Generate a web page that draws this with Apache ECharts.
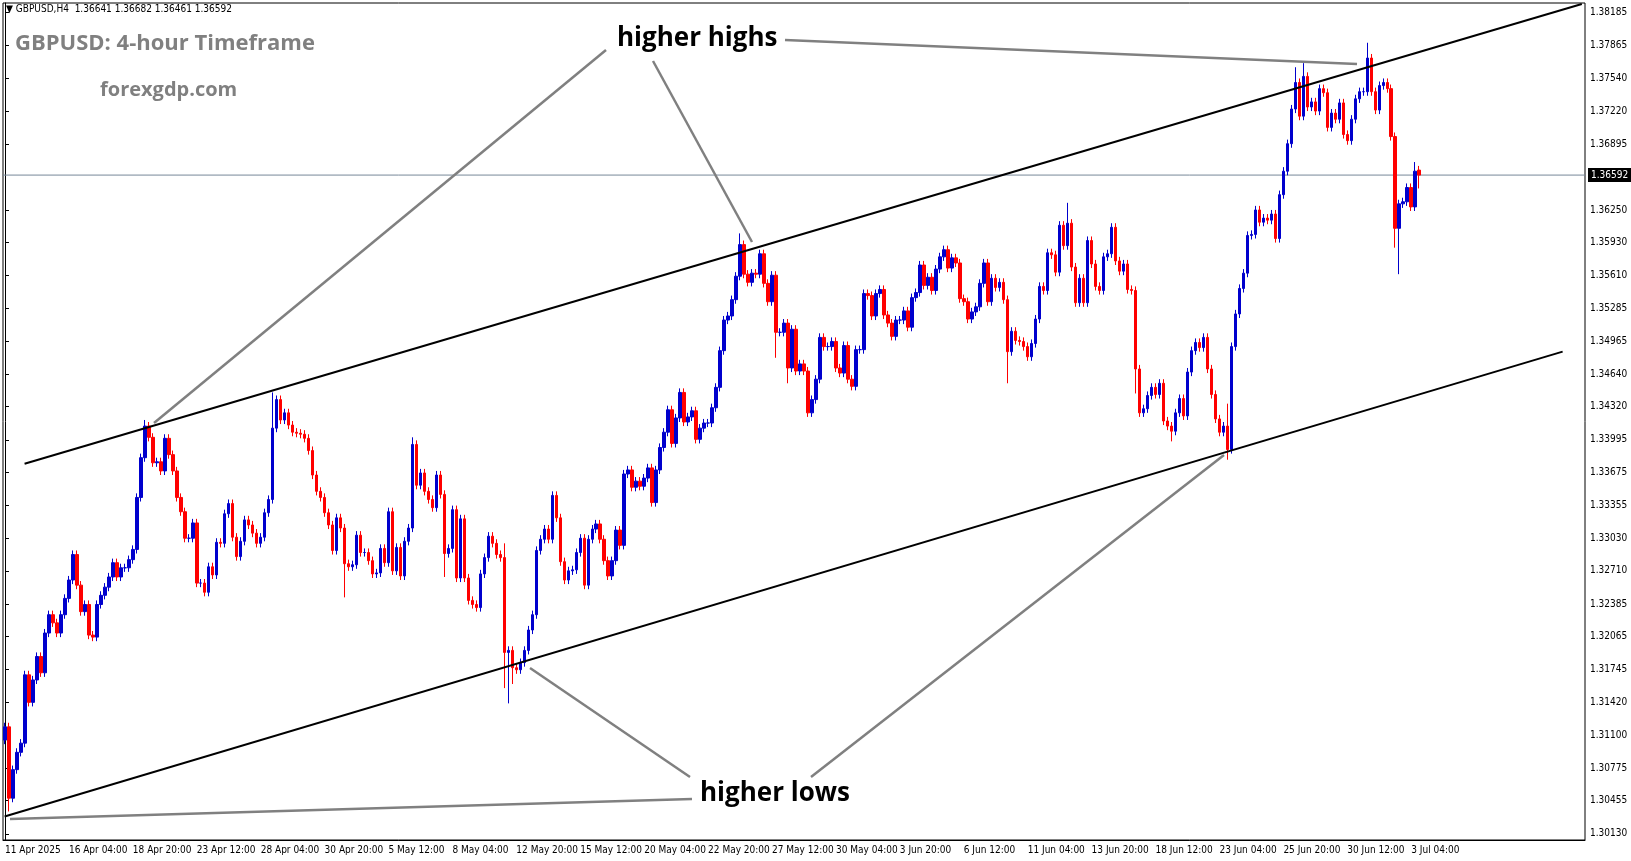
<!DOCTYPE html>
<html><head><meta charset="utf-8">
<script src="https://cdn.jsdelivr.net/npm/echarts@6/dist/echarts.min.js"></script>
<style>html,body{margin:0;padding:0;background:#fff}#c{width:1631px;height:861px}</style>
</head><body><div id="c"></div>
<script>
const tickLabels = ['11 Apr 2025','16 Apr 04:00','18 Apr 20:00','23 Apr 12:00','28 Apr 04:00','30 Apr 20:00','5 May 12:00','8 May 04:00','12 May 20:00','15 May 12:00','20 May 04:00','22 May 20:00','27 May 12:00','30 May 04:00','3 Jun 20:00','6 Jun 12:00','11 Jun 04:00','13 Jun 20:00','18 Jun 12:00','23 Jun 04:00','25 Jun 20:00','30 Jun 12:00','3 Jul 04:00'];
const priceLabels = [1.38185,1.37865,1.37540,1.37220,1.36895,1.36250,1.35930,1.35610,1.35285,1.34965,1.34640,1.34320,1.33995,1.33675,1.33355,1.33030,1.32710,1.32385,1.32065,1.31745,1.31420,1.31100,1.30775,1.30455,1.30130];
const firstOpen = 1.3105;
const closes = [
1.3118,1.3048,1.3076,1.3093,1.3102,1.3169,1.3142,1.3164,1.3187,1.3171,
1.3210,1.3228,1.3220,1.3210,1.3228,1.3244,1.3262,1.3287,1.3257,1.3231,
1.3238,1.3208,1.3206,1.3238,1.3247,1.3255,1.3265,1.3279,1.3265,1.3274,
1.3274,1.3282,1.3292,1.3343,1.3382,1.3413,1.3402,1.3377,1.3378,1.3369,
1.3401,1.3385,1.3369,1.3343,1.3329,1.3303,1.3303,1.3318,1.3259,1.3259,
1.3250,1.3275,1.3267,1.3299,1.3298,1.3327,1.3337,1.3304,1.3285,1.3300,
1.3321,1.3316,1.3308,1.3298,1.3304,1.3328,1.3341,1.3411,1.3439,1.3419,
1.3426,1.3414,1.3407,1.3406,1.3405,1.3401,1.3389,1.3365,1.3349,1.3343,
1.3328,1.3316,1.3291,1.3323,1.3313,1.3278,1.3275,1.3277,1.3306,1.3289,
1.3289,1.3281,1.3268,1.3269,1.3293,1.3279,1.3329,1.3271,1.3294,1.3266,
1.3300,1.3313,1.3395,1.3355,1.3367,1.3349,1.3341,1.3333,1.3365,1.3346,
1.3288,1.3293,1.3331,1.3264,1.3322,1.3264,1.3242,1.3238,1.3235,1.3268,
1.3284,1.3305,1.3298,1.3287,1.3284,1.3191,1.3193,1.3176,1.3174,1.3181,
1.3193,1.3213,1.3228,1.3291,1.3302,1.3312,1.3302,1.3345,1.3323,1.3280,
1.3262,1.3271,1.3272,1.3289,1.3303,1.3257,1.3302,1.3312,1.3317,1.3302,
1.3281,1.3266,1.3281,1.3311,1.3296,1.3366,1.3370,1.3353,1.3359,1.3354,
1.3362,1.3372,1.3338,1.3370,1.3392,1.3407,1.3429,1.3396,1.3421,1.3446,
1.3417,1.3422,1.3428,1.3400,1.3411,1.3416,1.3416,1.3431,1.3451,1.3487,
1.3517,1.3521,1.3537,1.3560,1.3591,1.3562,1.3554,1.3563,1.3562,1.3582,
1.3553,1.3535,1.3561,1.3505,1.3505,1.3514,1.3470,1.3508,1.3467,1.3474,
1.3467,1.3426,1.3439,1.3459,1.3500,1.3491,1.3491,1.3496,1.3470,1.3465,
1.3492,1.3459,1.3452,1.3488,1.3488,1.3543,1.3541,1.3521,1.3543,1.3547,
1.3522,1.3514,1.3501,1.3517,1.3517,1.3526,1.3510,1.3539,1.3544,1.3571,
1.3551,1.3559,1.3546,1.3567,1.3579,1.3586,1.3568,1.3578,1.3573,1.3538,
1.3535,1.3518,1.3525,1.3530,1.3553,1.3573,1.3535,1.3558,1.3549,1.3554,
1.3537,1.3486,1.3506,1.3497,1.3496,1.3491,1.3481,1.3494,1.3518,1.3550,
1.3546,1.3583,1.3581,1.3564,1.3610,1.3590,1.3612,1.3569,1.3534,1.3558,
1.3534,1.3595,1.3572,1.3550,1.3546,1.3579,1.3582,1.3608,1.3575,1.3565,
1.3572,1.3547,1.3546,1.3469,1.3426,1.3430,1.3443,1.3451,1.3444,1.3455,
1.3418,1.3413,1.3408,1.3426,1.3440,1.3423,1.3466,1.3487,1.3495,1.3490,
1.3500,1.3469,1.3444,1.3420,1.3407,1.3413,1.3390,1.3491,1.3523,1.3548,
1.3563,1.3600,1.3601,1.3625,1.3613,1.3617,1.3615,1.3621,1.3597,1.3640,
1.3663,1.3690,1.3724,1.3750,1.3717,1.3756,1.3726,1.3731,1.3722,1.3744,
1.3740,1.3706,1.3720,1.3714,1.3730,1.3699,1.3693,1.3714,1.3734,1.3741,
1.3741,1.3774,1.3741,1.3723,1.3747,1.3750,1.3744,1.3697,1.3607,1.3631,
1.3633,1.3647,1.3628,1.3663,1.36592];
// notable wick extremes
const wickHighs = {1:1.3122,35:1.3419,67:1.3446,102:1.3402,125:1.3298,184:1.3602,266:1.3632,283:1.3550,306:1.3435,323:1.3765,325:1.3769,341:1.3789,353:1.3672,354:1.36682};
const wickLows = {1:1.3035,85:1.3245,110:1.3265,125:1.3156,126:1.3141,127:1.3160,193:1.3480,196:1.3455,251:1.3455,283:1.3445,292:1.3398,306:1.3380,348:1.3588,349:1.3562,354:1.36461};
const currentPrice = 1.36592;
const upperChannel = [[4.9,1.3376],[394.7,1.3827]];
const lowerChannel = [[-0.1,1.3030],[389.9,1.3486]];

const N = 396;
const cats = Array.from({length:N},(_,i)=>String(i));
const ohlc = closes.map((c,i)=>{
  const o = i===0 ? firstOpen : (i===354 ? 1.36641 : closes[i-1]);
  const hi = wickHighs[i] !== undefined ? wickHighs[i] : Math.max(o,c)+0.0004;
  const lo = wickLows[i] !== undefined ? wickLows[i] : Math.min(o,c)-0.0004;
  return [o,c,lo,hi];
});

const chart = echarts.init(document.getElementById('c'));
const gray = '#808080';
const ff = '"Open Sans", "Liberation Sans", Arial, sans-serif';
const sf = '"DejaVu Sans Condensed", "DejaVu Sans", sans-serif';
function gline(x1,y1,x2,y2){return {type:'line',shape:{x1,y1,x2,y2},style:{stroke:gray,lineWidth:2.5},z:10};}
chart.setOption({
  animation:false,
  backgroundColor:'#fff',
  grid:{left:3,right:46,top:3,bottom:21,show:true,borderColor:'#000',borderWidth:1},
  xAxis:[{
    type:'category',data:cats,boundaryGap:true,
    axisLine:{lineStyle:{color:'#000'}},
    axisTick:{alignWithLabel:true,interval:(i)=>i%16===0 && i/16<tickLabels.length,lineStyle:{color:'#000'},length:4},
    axisLabel:{interval:(i)=>i%16===0 && i/16<tickLabels.length,formatter:(v,i)=>tickLabels[i/16]||'',
      align:'left',margin:5,fontSize:10,fontFamily:sf,color:'#000',hideOverlap:false},
    splitLine:{show:false}
  },{
    type:'value',min:-0.5,max:395.5,show:false
  }],
  yAxis:{
    type:'value',position:'right',min:1.3007,max:1.3828,scale:true,
    axisLine:{show:true,lineStyle:{color:'#000'}},
    axisTick:{show:true,customValues:priceLabels,length:4,lineStyle:{color:'#000'}},
    axisLabel:{customValues:priceLabels,formatter:(v)=>v.toFixed(5),fontSize:10,margin:5,fontFamily:sf,color:'#000'},
    splitLine:{show:false}
  },
  series:[{
    type:'candlestick',data:ohlc,barWidth:3,
    itemStyle:{color:'#0000cd',color0:'#ff0000',borderColor:'#0000cd',borderColor0:'#ff0000',borderWidth:1}
  },{
    type:'line',xAxisIndex:1,data:[[-0.5,currentPrice],[395.5,currentPrice]],symbol:'none',
    lineStyle:{color:'#778899',width:1},z:1,
    endLabel:{show:true,formatter:()=>currentPrice.toFixed(5),backgroundColor:'#000',color:'#fff',
      fontSize:10,padding:[2,3],distance:3,fontFamily:sf}
  },{
    type:'line',xAxisIndex:1,data:upperChannel,symbol:'none',lineStyle:{color:'#000',width:2},z:5
  },{
    type:'line',xAxisIndex:1,data:lowerChannel,symbol:'none',lineStyle:{color:'#000',width:2},z:5
  }],
  graphic:[
    {type:'text',left:6,top:4,style:{text:'▼ GBPUSD,H4  1.36641 1.36682 1.36461 1.36592',fontSize:10,fill:'#000',fontFamily:sf}},
    {type:'text',left:15,top:33,style:{text:'GBPUSD: 4-hour Timeframe',fontSize:22,fontWeight:'bold',fill:gray,fontFamily:ff}},
    {type:'text',left:100,top:80,style:{text:'forexgdp.com',fontSize:20,fontWeight:'bold',fill:gray,fontFamily:ff}},
    {type:'text',left:617,top:26,style:{text:'higher highs',fontSize:26,fontWeight:'bold',fill:'#000',fontFamily:ff}},
    {type:'text',left:700,top:781,style:{text:'higher lows',fontSize:26,fontWeight:'bold',fill:'#000',fontFamily:ff}},
    gline(606,50,154,423),
    gline(653,61,752,242),
    gline(785,40,1357,64),
    gline(692,799,10,819),
    gline(690,777,530,668),
    gline(811,777,1224,455)
  ]
});
</script></body></html>
